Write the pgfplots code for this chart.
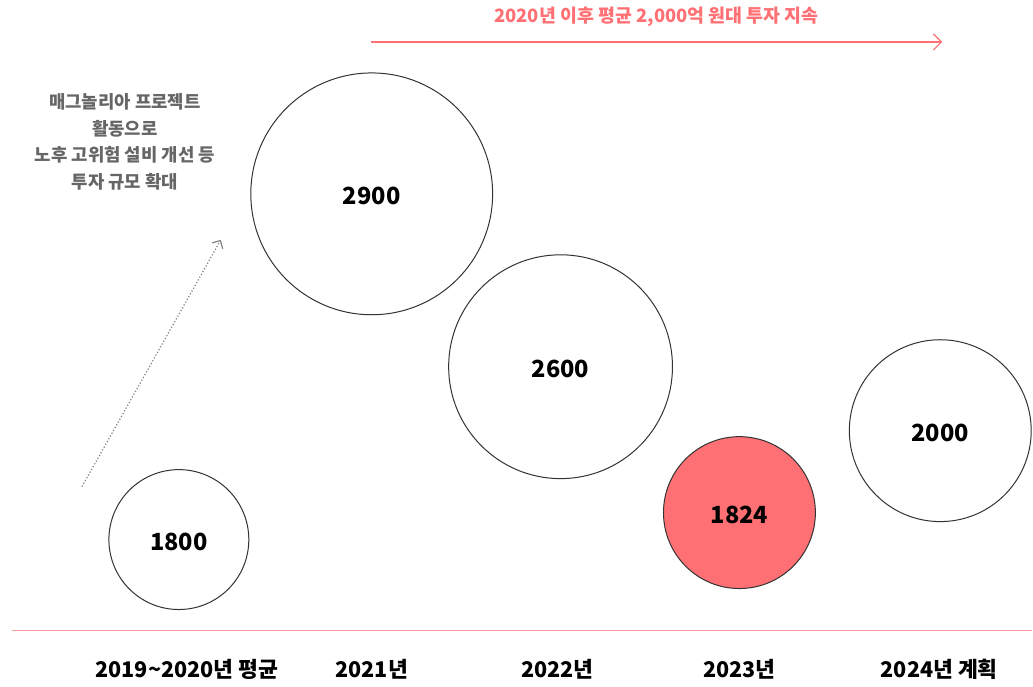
\documentclass[border=0pt]{standalone}
\usepackage{pgfplots}
\pgfplotsset{compat=1.18}
\usepackage{fontspec}
\setmainfont{Noto Sans CJK KR}
\usetikzlibrary{arrows.meta}
\definecolor{accent}{HTML}{FF7074}
\definecolor{pinkline}{HTML}{FF9EA1}
\definecolor{note}{HTML}{666666}
\begin{document}
\begin{tikzpicture}
\begin{axis}[
  width=516.5pt, height=342pt, scale only axis,
  xmin=0, xmax=1033, ymin=0, ymax=684, y dir=reverse,
  hide axis, clip=false,
  bubble/.style={
    only marks, mark=*, mark size=#1,
    point meta=explicit symbolic,
    nodes near coords, nodes near coords align={center},
    every node near coord/.append style={font=\bfseries\fontsize{11.8}{13}\selectfont, text=black, anchor=center, yshift=-1pt},
  },
  bubble/.default=35pt,
]
\path (rel axis cs:0,0) rectangle (rel axis cs:1,1);
% bubbles at layout position (px), mark radius = px/2 in pt
\addplot[bubble=35pt, mark options={draw=black!80, fill=white, line width=0.5pt}]
  coordinates {(179,540) [1800]};
\addplot[bubble=60.5pt, mark options={draw=black!80, fill=white, line width=0.5pt}]
  coordinates {(372,194) [2900]};
\addplot[bubble=56pt, mark options={draw=black!80, fill=white, line width=0.5pt}]
  coordinates {(561,367) [2600]};
\addplot[bubble=38pt, mark options={draw=black!80, fill=accent, line width=0.5pt}]
  coordinates {(740,513) [1824]};
\addplot[bubble=45.5pt, mark options={draw=black!80, fill=white, line width=0.5pt}]
  coordinates {(941,431) [2000]};
% baseline
\draw[pinkline, line width=0.8pt] (axis cs:12,631) -- (axis cs:1033,631);
% category labels
\begin{scope}[every node/.style={font=\bfseries\fontsize{10.8}{13}\selectfont, anchor=center}]
\node at (axis cs:187,670) {2019\textasciitilde2020년 평균};
\node at (axis cs:372,670) {2021년};
\node at (axis cs:558,670) {2022년};
\node at (axis cs:740,670) {2023년};
\node at (axis cs:940,670) {2024년 계획};
\end{scope}
% top arrow
\draw[accent, line width=0.6pt, -{Straight Barb[length=4pt,width=8pt]}] (axis cs:371,42) -- (axis cs:943,42);
\node[text=accent, font=\bfseries\fontsize{9.2}{11}\selectfont] at (axis cs:657,17) {2020년 이후 평균 2,000억 원대 투자 지속};
% note
\node[text=note, font=\bfseries\fontsize{8.9}{13.3}\selectfont, align=center] at (axis cs:125,142)
  {매그놀리아 프로젝트\\활동으로\\노후 고위험 설비 개선 등\\투자 규모 확대};
\draw[gray, line width=0.6pt, densely dotted, -{Straight Barb[length=3pt,width=6pt]}] (axis cs:82,487) -- (axis cs:221,240);
\end{axis}
\end{tikzpicture}
\end{document}
